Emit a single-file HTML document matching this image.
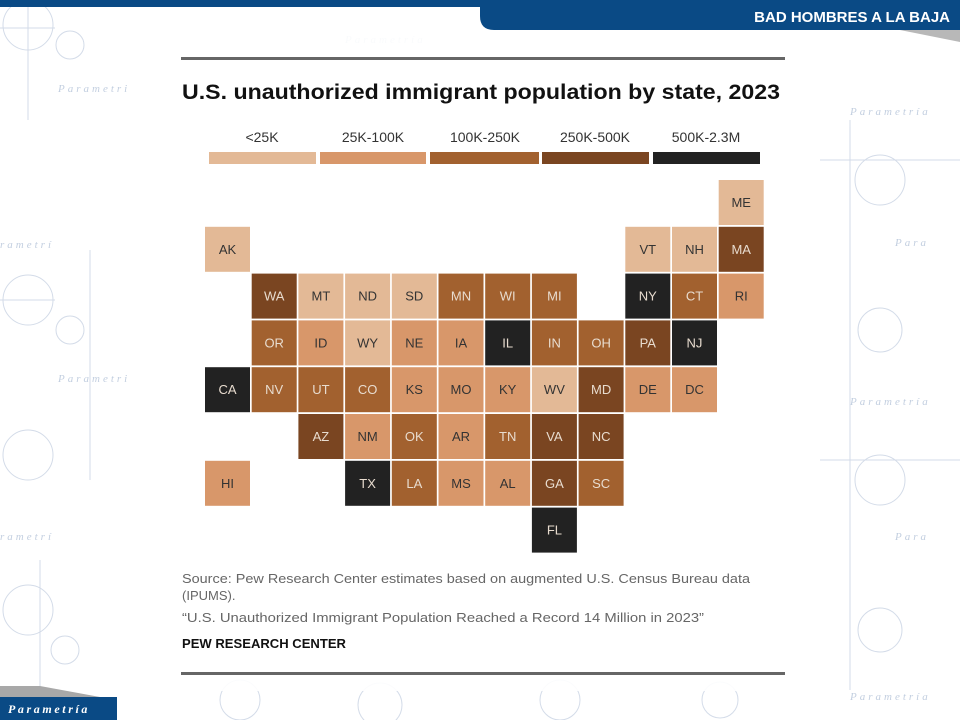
<!DOCTYPE html>
<html><head><meta charset="utf-8"><style>
html,body{margin:0;padding:0;background:#fff;}
svg{display:block;}
</style></head><body>
<svg width="960" height="720" viewBox="0 0 960 720" xmlns="http://www.w3.org/2000/svg" font-family="Liberation Sans, sans-serif">
<rect width="960" height="720" fill="#fff"/>
<!-- faint background decorations -->
<g stroke="#c9d3e3" stroke-width="1" fill="none" opacity="0.8">
<circle cx="28" cy="25" r="25"/><circle cx="70" cy="45" r="14"/><line x1="0" y1="28" x2="55" y2="28"/><line x1="28" y1="0" x2="28" y2="120"/>
<circle cx="28" cy="300" r="25"/><circle cx="70" cy="330" r="14"/><line x1="0" y1="300" x2="55" y2="300"/><line x1="90" y1="250" x2="90" y2="480"/>
<circle cx="28" cy="455" r="25"/><circle cx="28" cy="610" r="25"/><circle cx="65" cy="650" r="14"/><line x1="40" y1="560" x2="40" y2="690"/>
<circle cx="880" cy="180" r="25"/><circle cx="880" cy="330" r="22"/><circle cx="880" cy="480" r="25"/><circle cx="880" cy="630" r="22"/>
<line x1="850" y1="120" x2="850" y2="690"/><line x1="820" y1="160" x2="960" y2="160"/><line x1="820" y1="460" x2="960" y2="460"/>
<circle cx="240" cy="700" r="20"/><circle cx="380" cy="705" r="22"/><circle cx="560" cy="700" r="20"/><circle cx="720" cy="700" r="18"/>
</g>
<g font-family="Liberation Serif, serif" font-style="italic" fill="#c3cfe0" font-size="11" letter-spacing="3">
<text x="58" y="92">Parametri</text><text x="0" y="248">rametrí</text><text x="58" y="382">Parametri</text><text x="0" y="540">rametrí</text>
<text x="345" y="43">Parametría</text><text x="850" y="115">Parametría</text><text x="895" y="246">Para</text><text x="850" y="405">Parametría</text><text x="895" y="540">Para</text><text x="850" y="700">Parametría</text>
</g>
<rect x="160" y="36" width="645" height="655" fill="#fff" opacity="0.9"/>
<!-- top bar -->
<rect x="0" y="0" width="960" height="7" fill="#0a4a85"/>
<path d="M480 0 H960 V30 H494 Q480 30 480 16 Z" fill="#0a4a85"/>
<polygon points="900,30 960,30 960,42" fill="#b8b8b8"/>
<text x="950" y="22" text-anchor="end" fill="#fff" font-weight="bold" font-size="15">BAD HOMBRES A LA BAJA</text>
<!-- bottom logo -->
<polygon points="0,686 40,686 100,697 0,697" fill="#a8a8a8"/>
<path d="M0 697 H117 V720 H0 Z" fill="#0a4a85"/>
<text x="8" y="713" fill="#fff" font-family="Liberation Serif, serif" font-style="italic" font-weight="bold" font-size="12" letter-spacing="2.6">Parametría</text>
<!-- rules -->
<rect x="181" y="57" width="604" height="3" fill="#666"/>
<rect x="181" y="672" width="604" height="3" fill="#666"/>
<text x="182" y="99" font-weight="bold" font-size="21" fill="#111" textLength="598" lengthAdjust="spacingAndGlyphs">U.S. unauthorized immigrant population by state, 2023</text>
<!-- legend -->
<g font-size="14" fill="#333" text-anchor="middle">
<text x="262" y="142">&lt;25K</text><text x="373" y="142">25K-100K</text><text x="485" y="142">100K-250K</text><text x="595" y="142">250K-500K</text><text x="706" y="142">500K-2.3M</text>
</g>
<rect x="209" y="152" width="107" height="12" fill="#e3b996"/>
<rect x="320" y="152" width="106" height="12" fill="#d8976a"/>
<rect x="430" y="152" width="109" height="12" fill="#a2612f"/>
<rect x="542" y="152" width="107" height="12" fill="#7a4521"/>
<rect x="653" y="152" width="107" height="12" fill="#222"/>
<g id="tiles" font-size="13" text-anchor="middle"></g>
<!-- source -->
<g font-size="13" fill="#666">
<text x="182" y="583" textLength="568" lengthAdjust="spacingAndGlyphs">Source: Pew Research Center estimates based on augmented U.S. Census Bureau data</text>
<text x="182" y="600">(IPUMS).</text>
<text x="182" y="622" textLength="522" lengthAdjust="spacingAndGlyphs">“U.S. Unauthorized Immigrant Population Reached a Record 14 Million in 2023”</text>
</g>
<text x="182" y="648" font-size="13" font-weight="bold" fill="#111" textLength="164" lengthAdjust="spacingAndGlyphs">PEW RESEARCH CENTER</text>
</svg>
<script>
var C=["#e3b996","#d8976a","#a2612f","#7a4521","#222"];
var d=[["ME",11,0,0],["AK",0,1,0],["VT",9,1,0],["NH",10,1,0],["MA",11,1,3],
["WA",1,2,3],["MT",2,2,0],["ND",3,2,0],["SD",4,2,0],["MN",5,2,2],["WI",6,2,2],["MI",7,2,2],["NY",9,2,4],["CT",10,2,2],["RI",11,2,1],
["OR",1,3,2],["ID",2,3,1],["WY",3,3,0],["NE",4,3,1],["IA",5,3,1],["IL",6,3,4],["IN",7,3,2],["OH",8,3,2],["PA",9,3,3],["NJ",10,3,4],
["CA",0,4,4],["NV",1,4,2],["UT",2,4,2],["CO",3,4,2],["KS",4,4,1],["MO",5,4,1],["KY",6,4,1],["WV",7,4,0],["MD",8,4,3],["DE",9,4,1],["DC",10,4,1],
["AZ",2,5,3],["NM",3,5,1],["OK",4,5,2],["AR",5,5,1],["TN",6,5,2],["VA",7,5,3],["NC",8,5,3],
["HI",0,6,1],["TX",3,6,4],["LA",4,6,2],["MS",5,6,1],["AL",6,6,1],["GA",7,6,3],["SC",8,6,2],["FL",7,7,4]];
var g=document.getElementById("tiles"),ns="http://www.w3.org/2000/svg";
d.forEach(function(t){var x=205+t[1]*46.7,y=180+t[2]*46.8;
var r=document.createElementNS(ns,"rect");r.setAttribute("x",x);r.setAttribute("y",y);r.setAttribute("width",45);r.setAttribute("height",45);r.setAttribute("fill",C[t[3]]);g.appendChild(r);
var s=document.createElementNS(ns,"text");s.setAttribute("x",x+22.5);s.setAttribute("y",y+27);s.setAttribute("fill",t[3]>=2?"#e8dccf":"#333");s.textContent=t[0];g.appendChild(s);});
</script>
</body></html>
